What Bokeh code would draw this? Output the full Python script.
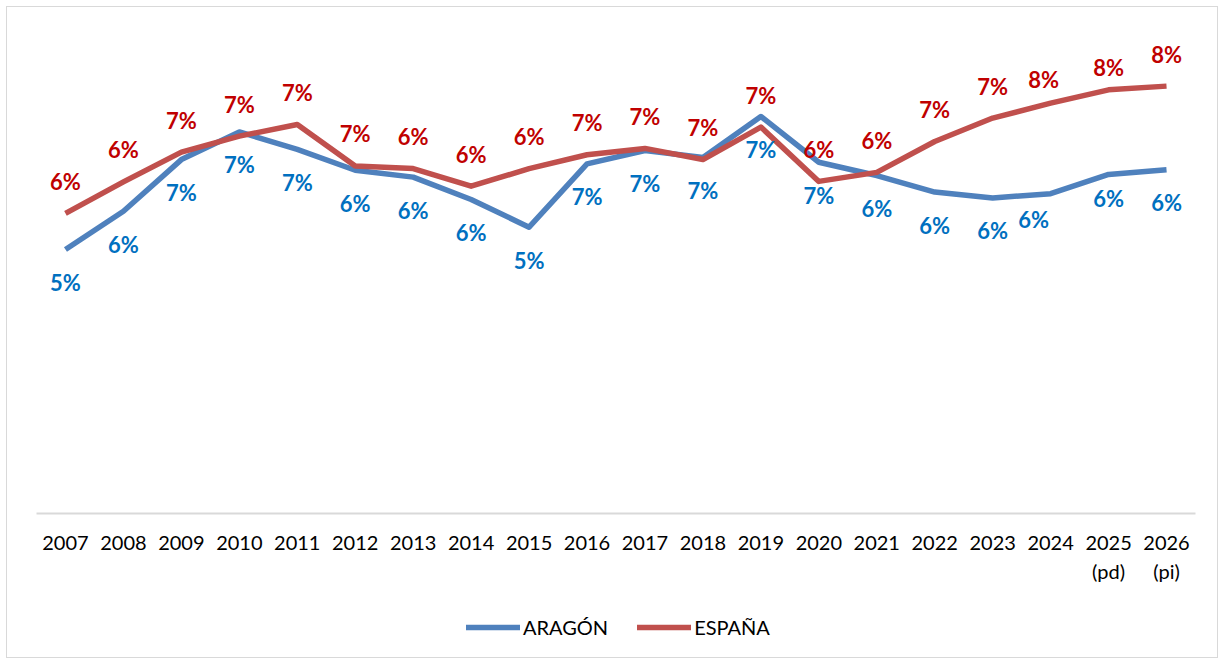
from bokeh.plotting import figure
from bokeh.layouts import column
from bokeh.models import (ColumnDataSource, Range1d, FactorRange, CategoricalAxis,
                          Legend, LegendItem)
from bokeh.core.properties import value
from bokeh.embed import file_html
from bokeh.resources import INLINE

# ---- data ----
years = [str(y) for y in range(2007, 2027)]
aragon = [4.96, 5.68, 6.65, 7.17, 6.84, 6.45, 6.32, 5.90, 5.38, 6.57,
          6.82, 6.69, 7.46, 6.60, 6.35, 6.04, 5.93, 6.01, 6.37, 6.46]
espana = [5.64, 6.23, 6.79, 7.09, 7.31, 6.53, 6.48, 6.15, 6.48, 6.74,
          6.86, 6.65, 7.26, 6.24, 6.41, 6.99, 7.43, 7.71, 7.96, 8.03]
series_names = ["ARAGÓN", "ESPAÑA"]
year_notes = {"2025": "(pd)", "2026": "(pi)"}

# label placement nudges (screen pixels), style only
ar_nudge = {"2024": (-17, -7), "2025": (0, -9)}
es_nudge = {"2024": (-7, 8), "2025": (0, 10)}

BLUE_LINE = "#4F81BD"
RED_LINE = "#C0504D"
BLUE_TXT = "#0070C0"
RED_TXT = "#C00000"
FONT = "Lato"
W = 1210


def pct(v):
    return f"{int(v + 0.5)}%"


# unique blank factors for the second (notes) row of the axis
note_factors = [year_notes.get(y, " " * (i + 1)) for i, y in enumerate(years)]

p = figure(width=W, height=590, x_range=FactorRange(*years), y_range=Range1d(0, 9),
           output_backend="svg", toolbar_location=None, y_axis_location=None,
           x_axis_location=None, min_border_left=29, min_border_right=22,
           min_border_top=27, min_border_bottom=84)
p.extra_x_ranges = {"notes": FactorRange(*note_factors)}
p.outline_line_color = None
p.xgrid.visible = False
p.ygrid.visible = False
p.background_fill_color = "white"
p.border_fill_color = "white"

src_a = ColumnDataSource(dict(
    x=years, y=aragon, t=[pct(v) for v in aragon],
    dx=[ar_nudge.get(y, (0, 0))[0] for y in years],
    dy=[33 + ar_nudge.get(y, (0, 0))[1] for y in years]))
src_e = ColumnDataSource(dict(
    x=years, y=espana, t=[pct(v) for v in espana],
    dx=[es_nudge.get(y, (0, 0))[0] for y in years],
    dy=[-32 + es_nudge.get(y, (0, 0))[1] for y in years]))

p.line("x", "y", source=src_a, line_color=BLUE_LINE, line_width=5.5, line_join="round")
p.line("x", "y", source=src_e, line_color=RED_LINE, line_width=5.5, line_join="round")

p.text("x", "y", text="t", source=src_a, x_offset="dx", y_offset="dy",
       text_align="center", text_baseline="middle", text_font=value(FONT),
       text_font_style="bold", text_font_size="22px", text_color=BLUE_TXT)
p.text("x", "y", text="t", source=src_e, x_offset="dx", y_offset="dy",
       text_align="center", text_baseline="middle", text_font=value(FONT),
       text_font_style="bold", text_font_size="22px", text_color=RED_TXT)

ax = CategoricalAxis()
ax.axis_line_color = "#D9D9D9"
ax.axis_line_width = 2
ax.major_tick_line_color = None
ax.minor_tick_line_color = None
ax.major_tick_out = 0
ax.major_label_standoff = 22
ax.major_label_text_font = FONT
ax.major_label_text_font_size = "20px"
ax.major_label_text_color = "#000000"
p.add_layout(ax, "below")

ax2 = CategoricalAxis(x_range_name="notes")
ax2.axis_line_color = None
ax2.major_tick_line_color = None
ax2.minor_tick_line_color = None
ax2.major_tick_out = 0
ax2.major_label_standoff = 6
ax2.major_label_text_font = FONT
ax2.major_label_text_font_size = "20px"
ax2.major_label_text_color = "#000000"
p.add_layout(ax2, "below")

# ---- legend strip (legend-only proxy lines kept outside the visible range) ----
lg = figure(width=W, height=60, x_range=Range1d(0, 1), y_range=Range1d(0, 1),
            output_backend="svg", toolbar_location=None, x_axis_location=None,
            y_axis_location=None, min_border=0)
lg.outline_line_color = None
lg.xgrid.visible = False
lg.ygrid.visible = False
lg.border_fill_color = "white"
lg.background_fill_color = "white"
la = lg.line(x=[5, 6], y=[5, 6], line_color=BLUE_LINE, line_width=5.5, line_cap="round")
le = lg.line(x=[5, 6], y=[5, 6], line_color=RED_LINE, line_width=5.5, line_cap="round")
legend = Legend(items=[LegendItem(label=series_names[0], renderers=[la]),
                       LegendItem(label=series_names[1], renderers=[le])],
                orientation="horizontal", location=(430, 18),
                glyph_width=54, glyph_height=24, label_standoff=3, spacing=29,
                label_text_font=FONT, label_text_font_size="20px",
                label_text_color="#000000", border_line_color=None,
                background_fill_alpha=0, margin=0, padding=0)
lg.add_layout(legend, "center")

root = column(p, lg, spacing=0,
              styles={"border": "1px solid #D9D9D9", "margin-left": "6px",
                      "margin-top": "6px", "background-color": "white"})

open("out.html", "w").write(file_html(root, INLINE))
